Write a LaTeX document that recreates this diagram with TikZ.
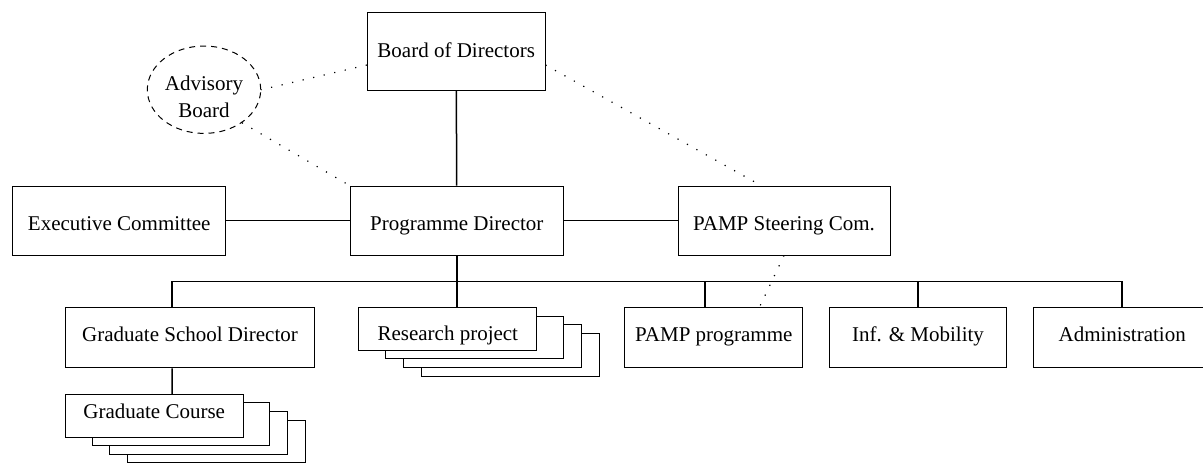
\documentclass[tikz,border=0pt]{standalone}
\usepackage{fontspec}
\setmainfont{Liberation Serif}
\usepackage{tikz}
\usetikzlibrary{shapes.geometric,shadows}

\begin{document}
\begin{tikzpicture}[x=0.5pt,y=-0.5pt,font=\fontsize{10.5}{13.6}\selectfont,
	box/.style={rectangle,draw,fill=white,line width=0.5pt,inner sep=0pt,text depth=2pt},
	top/.style={minimum width=88.85pt,minimum height=38.85pt,text height=8.1pt},
	mid/.style={minimum width=106.7pt,minimum height=34.5pt,text height=11.5pt},
	low/.style={minimum width=88.85pt,minimum height=30.25pt,text height=6.2pt},
	pile/.style={minimum width=88.9pt,minimum height=21.4pt,
		copy shadow={shadow xshift=31.15pt,shadow yshift=-12.9pt},
		copy shadow={shadow xshift=22.3pt,shadow yshift=-8.6pt},
		copy shadow={shadow xshift=13.35pt,shadow yshift=-4.3pt}},
	advisory/.style={ellipse,draw,dash pattern=on 3pt off 2.5pt,line width=0.5pt,inner sep=0pt,
		minimum width=56.7pt,minimum height=43.7pt,align=center,text height=27.6pt,text depth=0pt},
	link/.style={line width=0.75pt},
	loose/.style={line width=0.6pt,dash pattern=on 0.6pt off 4.8pt}]

	\useasboundingbox (0,0) rectangle (1203,462);
	\clip (0,0) rectangle (1203,462);

	% The chart
	\node [box,top] at (456.2,51.2) (board) {Board of Directors};
	\node [advisory] at (204,89.7) (adv) {Advisory\\Board};

	\node [box,mid] at (119.2,220.5) (exec) {Executive Committee};
	\node [box,mid] at (456.8,220.5) (pd) {Programme Director};
	\node [box,mid,minimum width=106pt] at (784,220.5) (steer) {PAMP Steering Com.};

	\node [box,low,minimum width=124.35pt] at (190,337.5) (gsd) {Graduate School Director};
	\node [box,pile,text height=13.9pt] at (447.8,328.8) (research) {Research project};
	\node [box,low] at (713.8,337.5) (pampprog) {PAMP programme};
	\node [box,low] at (918,337.5) (inf) {Inf. \& Mobility};
	\node [box,low] at (1122.2,337.5) (admin) {Administration};

	\node [box,pile,text height=4.6pt] at (154.2,415.7) (course) {Graduate Course};

	\coordinate (bus) at (456.8,281.7);

	% Chart lines
	\path[link]
	(board) edge (pd)
	(exec) edge (pd)
	(pd) edge (steer);

	\draw[link] (pd.south) -- ([xshift=4.5pt]research.north);
	\draw[link] ([xshift=-9pt]gsd.north) |- (bus) -| (admin.north);
	\draw[link] ([xshift=-4.4pt]pampprog.north) |- (bus);
	\draw[link] (inf.north) |- (bus);
	\draw[link] ([xshift=-9pt]gsd.south) -- ([xshift=8.9pt]course.north);

	\path[loose]
	([yshift=-6.9pt]board.west) edge (adv.east)
	(adv.-41) edge (pd.north west)
	([yshift=-6.9pt]board.east) edge ([xshift=-11.5pt]steer.north)
	(steer.south) edge ([xshift=22.9pt]pampprog.north);

\end{tikzpicture}
\end{document}
